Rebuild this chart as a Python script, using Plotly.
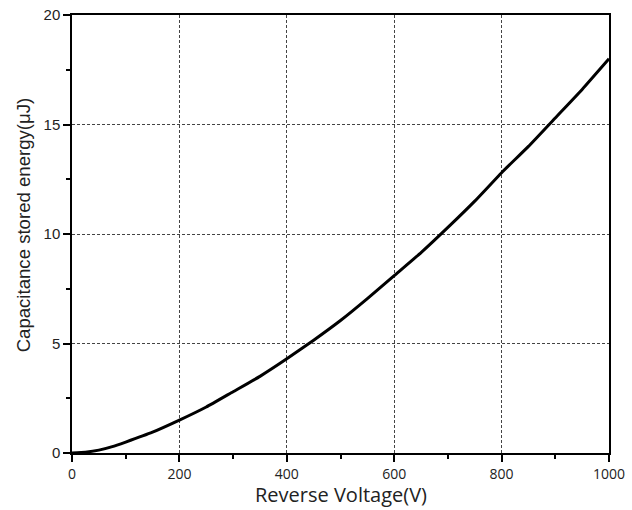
import plotly.graph_objects as go

voltage = [0, 25, 50, 75, 100, 150, 200, 250, 300, 350, 400, 450, 500, 550, 600, 650, 700, 750, 800, 850, 900, 950, 1000]
energy = [0, 0.04, 0.13, 0.29, 0.5, 0.95, 1.5, 2.1, 2.8, 3.5, 4.3, 5.15, 6.05, 7.05, 8.1, 9.15, 10.3, 11.5, 12.8, 14.0, 15.3, 16.6, 18.0]

x_title = "Reverse Voltage(V)"
y_title = "Capacitance stored energy(μJ)"

fig = go.Figure()
fig.add_trace(go.Scatter(x=voltage, y=energy, mode="lines",
                         line=dict(color="black", width=3, shape="spline", smoothing=0.4),
                         showlegend=False, hoverinfo="skip"))

axis_common = dict(
    showline=True, linecolor="black", linewidth=1.5, mirror=True,
    ticks="outside", ticklen=7, tickwidth=1.5, tickcolor="black",
    showgrid=True, gridcolor="#444", gridwidth=1, griddash="3px,2px",
    zeroline=False, automargin=False,
)

fig.update_xaxes(range=[0, 1000], tick0=0, dtick=200,
                 minor=dict(ticks="outside", ticklen=4, tickwidth=1.5, tickcolor="black", dtick=100, showgrid=False),
                 tickfont=dict(family="Open Sans", size=14, color="#222"),
                 **axis_common)
fig.update_yaxes(range=[0, 20], tick0=0, dtick=5,
                 minor=dict(ticks="outside", ticklen=4, tickwidth=1.5, tickcolor="black", dtick=2.5, showgrid=False),
                 tickfont=dict(family="Liberation Sans, Arial", size=15, color="#222"),
                 **axis_common)

fig.add_annotation(text=x_title, xref="paper", yref="paper", x=0.5, y=-0.095,
                   xanchor="center", yanchor="middle", showarrow=False,
                   font=dict(family="Open Sans", size=20, color="#222"))
fig.add_annotation(text=y_title, xref="paper", yref="paper", x=-0.091, y=0.52,
                   xanchor="center", yanchor="middle", showarrow=False, textangle=-90,
                   font=dict(family="Liberation Sans, Arial", size=18.6, color="#222"))

fig.update_layout(
    width=632, height=510,
    margin=dict(l=72, r=23, t=15, b=57),
    plot_bgcolor="white", paper_bgcolor="white",
)

# remove the browser's default 8px body margin so the figure fills the window exactly
fig.write_html("out.html", config={"displayModeBar": False},
               post_script="document.body.style.margin='0';document.body.style.overflow='hidden';")
